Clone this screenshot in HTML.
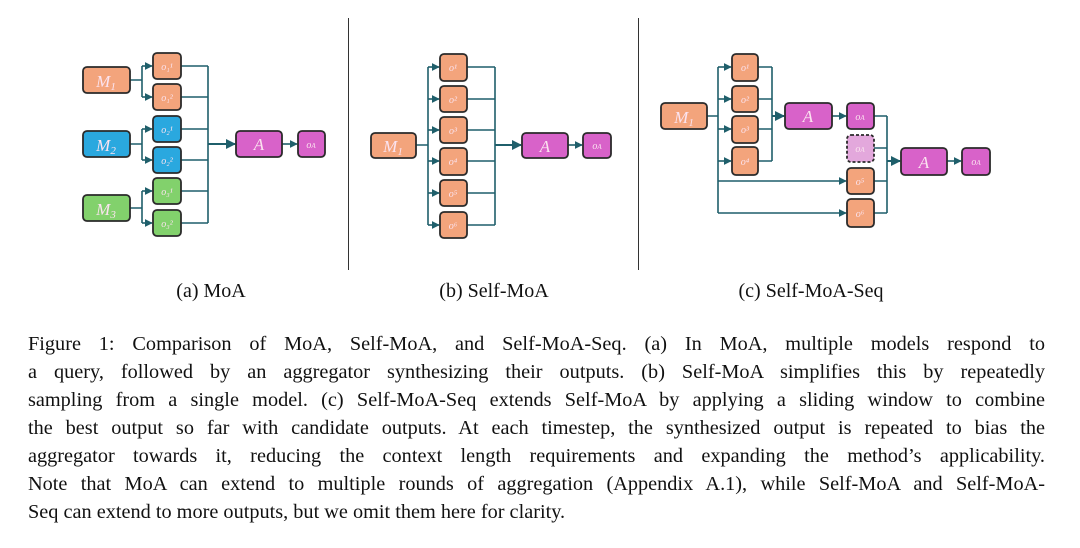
<!DOCTYPE html>
<html><head><meta charset="utf-8"><style>
body{margin:0;width:1080px;height:548px;background:#fff;overflow:hidden;position:relative;font-family:"Liberation Serif",serif;}
.l{position:absolute;left:28px;width:1017px;font-size:20.3px;line-height:28px;color:#111;text-align:justify;text-align-last:justify;white-space:nowrap;}
.l.last{text-align-last:left;}
.lab{position:absolute;top:280px;font-size:20px;color:#111;transform:translateX(-50%);white-space:nowrap;}
svg{position:absolute;left:0;top:0}
</style></head><body>
<svg width="1080" height="300" viewBox="0 0 1080 300">
<defs><marker id="ar" viewBox="0 0 10 10" refX="9" refY="5" markerWidth="5" markerHeight="5" orient="auto"><path d="M0,0L10,5L0,10z" fill="#1f5f6b"/></marker></defs>
<g stroke="#1f5f6b" stroke-width="1.6" fill="none">
<path d="M130,80H142M142,66V97"/>
<path d="M142,66H152" marker-end="url(#ar)"/><path d="M142,97H152" marker-end="url(#ar)"/>
<path d="M130,144H142M142,129V160"/><path d="M142,129H152" marker-end="url(#ar)"/><path d="M142,160H152" marker-end="url(#ar)"/>
<path d="M130,208H142M142,191V223"/><path d="M142,191H152" marker-end="url(#ar)"/><path d="M142,223H152" marker-end="url(#ar)"/>
<path d="M181,66H208M181,97H208M181,129H208M181,160H208M181,191H208M181,223H208M208,66V223"/>
<path d="M208,144H235" stroke-width="2" marker-end="url(#ar)"/>
<path d="M282,144H297" marker-end="url(#ar)"/>
<path d="M416,145H428M428,67V225"/>
<path d="M428,67H439" marker-end="url(#ar)"/><path d="M428,99H439" marker-end="url(#ar)"/><path d="M428,130H439" marker-end="url(#ar)"/><path d="M428,161H439" marker-end="url(#ar)"/><path d="M428,193H439" marker-end="url(#ar)"/><path d="M428,225H439" marker-end="url(#ar)"/>
<path d="M467,67H495M467,99H495M467,130H495M467,161H495M467,193H495M467,225H495M495,67V225"/>
<path d="M495,145H521" stroke-width="2" marker-end="url(#ar)"/>
<path d="M568,145H582" marker-end="url(#ar)"/>
<path d="M707,116H718M718,67V213"/>
<path d="M718,67H731" marker-end="url(#ar)"/><path d="M718,99H731" marker-end="url(#ar)"/><path d="M718,129H731" marker-end="url(#ar)"/><path d="M718,161H731" marker-end="url(#ar)"/>
<path d="M718,181H846" marker-end="url(#ar)"/><path d="M718,213H846" marker-end="url(#ar)"/>
<path d="M758,67H772M758,99H772M758,129H772M758,161H772M772,67V161"/>
<path d="M772,116H784" stroke-width="2" marker-end="url(#ar)"/>
<path d="M832,116H846" marker-end="url(#ar)"/>
<path d="M874,116H887M874,148H887M874,181H887M874,213H887M887,116V213"/>
<path d="M887,161H900" stroke-width="2" marker-end="url(#ar)"/>
<path d="M947,161H961" marker-end="url(#ar)"/>
</g>
<g stroke="#2a2a2a" stroke-width="1.8">
<rect x="83" y="67" width="47" height="26" rx="4" fill="#f3a47c"/>
<rect x="83" y="131" width="47" height="26" rx="4" fill="#2aa8df"/>
<rect x="83" y="195" width="47" height="26" rx="4" fill="#82d16c"/>
<rect x="153" y="53" width="28" height="26" rx="4" fill="#f3a47c"/>
<rect x="153" y="84" width="28" height="26" rx="4" fill="#f3a47c"/>
<rect x="153" y="116" width="28" height="26" rx="4" fill="#2aa8df"/>
<rect x="153" y="147" width="28" height="26" rx="4" fill="#2aa8df"/>
<rect x="153" y="178" width="28" height="26" rx="4" fill="#82d16c"/>
<rect x="153" y="210" width="28" height="26" rx="4" fill="#82d16c"/>
<rect x="236" y="131" width="46" height="26" rx="4" fill="#d862c9"/>
<rect x="298" y="131" width="27" height="26" rx="4" fill="#d862c9"/>
<rect x="371" y="133" width="45" height="25" rx="4" fill="#f3a47c"/>
<rect x="440" y="54" width="27" height="27" rx="4" fill="#f3a47c"/>
<rect x="440" y="86" width="27" height="26" rx="4" fill="#f3a47c"/>
<rect x="440" y="117" width="27" height="26" rx="4" fill="#f3a47c"/>
<rect x="440" y="148" width="27" height="27" rx="4" fill="#f3a47c"/>
<rect x="440" y="180" width="27" height="26" rx="4" fill="#f3a47c"/>
<rect x="440" y="212" width="27" height="26" rx="4" fill="#f3a47c"/>
<rect x="522" y="133" width="46" height="25" rx="4" fill="#d862c9"/>
<rect x="583" y="133" width="28" height="25" rx="4" fill="#d862c9"/>
<rect x="661" y="103" width="46" height="26" rx="4" fill="#f3a47c"/>
<rect x="732" y="54" width="26" height="27" rx="4" fill="#f3a47c"/>
<rect x="732" y="86" width="26" height="26" rx="4" fill="#f3a47c"/>
<rect x="732" y="116" width="26" height="27" rx="4" fill="#f3a47c"/>
<rect x="732" y="147" width="26" height="28" rx="4" fill="#f3a47c"/>
<rect x="785" y="103" width="47" height="26" rx="4" fill="#d862c9"/>
<rect x="847" y="103" width="27" height="26" rx="4" fill="#d862c9"/>
<rect x="847" y="135" width="27" height="27" rx="4" fill="#e3a8dc" stroke-dasharray="3,2"/>
<rect x="847" y="168" width="27" height="26" rx="4" fill="#f3a47c"/>
<rect x="847" y="199" width="27" height="28" rx="4" fill="#f3a47c"/>
<rect x="901" y="148" width="46" height="27" rx="4" fill="#d862c9"/>
<rect x="962" y="148" width="28" height="27" rx="4" fill="#d862c9"/>
</g>
<g fill="#fbe3ef" font-family="Liberation Serif,serif" font-style="italic" text-anchor="middle" font-size="17">
<text x="106" y="87">M<tspan font-size="11" dy="3">1</tspan></text>
<text x="106" y="151">M<tspan font-size="11" dy="3">2</tspan></text>
<text x="106" y="215">M<tspan font-size="11" dy="3">3</tspan></text>
<text x="259" y="150">A</text>
<text x="393" y="152">M<tspan font-size="11" dy="3">1</tspan></text>
<text x="545" y="152">A</text>
<text x="684" y="123">M<tspan font-size="11" dy="3">1</tspan></text>
<text x="808" y="122">A</text>
<text x="924" y="168">A</text>
</g>
<g fill="#fbe3ef" font-family="Liberation Serif,serif" font-style="italic" text-anchor="middle" font-size="10">
<text x="167" y="70">o₁¹</text><text x="167" y="101">o₁²</text><text x="167" y="133">o₂¹</text><text x="167" y="164">o₂²</text><text x="167" y="195">o₃¹</text><text x="167" y="227">o₃²</text><text x="311" y="148">o<tspan font-size="7">A</tspan></text>
<text x="453" y="71">o¹</text><text x="453" y="103">o²</text><text x="453" y="134">o³</text><text x="453" y="165">o⁴</text><text x="453" y="197">o⁵</text><text x="453" y="229">o⁶</text><text x="597" y="149">o<tspan font-size="7">A</tspan></text>
<text x="745" y="71">o¹</text><text x="745" y="103">o²</text><text x="745" y="133">o³</text><text x="745" y="165">o⁴</text><text x="860" y="120">o<tspan font-size="7">A</tspan></text><text x="860" y="152">o<tspan font-size="7">A</tspan></text><text x="860" y="185">o⁵</text><text x="860" y="217">o⁶</text><text x="976" y="165">o<tspan font-size="7">A</tspan></text>
</g>
<line x1="348.5" y1="18" x2="348.5" y2="270" stroke="#333" stroke-width="1"/>
<line x1="638.5" y1="18" x2="638.5" y2="270" stroke="#333" stroke-width="1"/>
</svg>
<div class="lab" style="left:211px">(a) MoA</div>
<div class="lab" style="left:494px">(b) Self-MoA</div>
<div class="lab" style="left:811px">(c) Self-MoA-Seq</div>
<div class="l" style="top:330px">Figure 1: Comparison of MoA, Self-MoA, and Self-MoA-Seq. (a) In MoA, multiple models respond to</div>
<div class="l" style="top:358px">a query, followed by an aggregator synthesizing their outputs. (b) Self-MoA simplifies this by repeatedly</div>
<div class="l" style="top:386px">sampling from a single model. (c) Self-MoA-Seq extends Self-MoA by applying a sliding window to combine</div>
<div class="l" style="top:414px">the best output so far with candidate outputs. At each timestep, the synthesized output is repeated to bias the</div>
<div class="l" style="top:442px">aggregator towards it, reducing the context length requirements and expanding the method’s applicability.</div>
<div class="l" style="top:470px">Note that MoA can extend to multiple rounds of aggregation (Appendix A.1), while Self-MoA and Self-MoA-</div>
<div class="l last" style="top:498px">Seq can extend to more outputs, but we omit them here for clarity.</div>
</body></html>
